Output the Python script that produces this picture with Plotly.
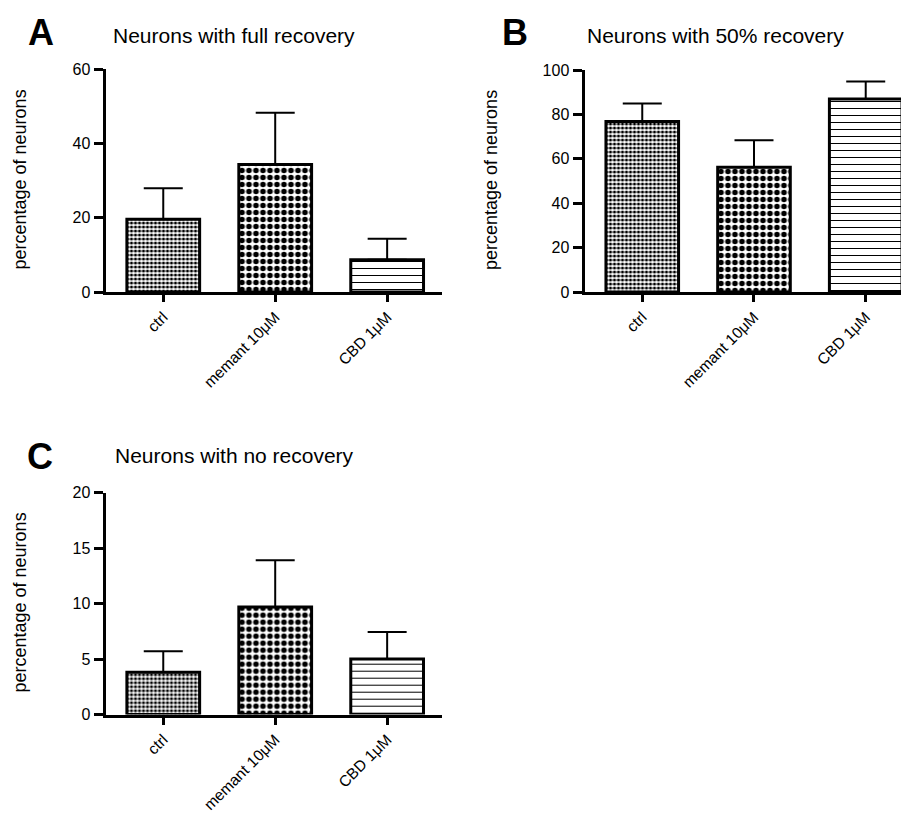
import plotly.graph_objects as go

categories = ["ctrl", "memant 10μM", "CBD 1μM"]

full_mean = [19.6, 34.3, 8.7]
full_sem = [8.3, 13.9, 5.6]

half_mean = [76.8, 56.2, 86.9]
half_sem = [8.1, 12.1, 7.9]

none_mean = [3.8, 9.7, 5.0]
none_sem = [1.9, 4.2, 2.45]

titles = ["Neurons with full recovery", "Neurons with 50% recovery", "Neurons with no recovery"]
letters = ["A", "B", "C"]
ytitle = "percentage of neurons"

FONT = "Arial, 'Liberation Sans', sans-serif"

pat_shapes = [".", ".", "-"]
pat_sizes = [4, 7, 7]
pat_solid = [0.5, 0.5, 0.15]

fig = go.Figure()

panels = [
    (full_mean, full_sem, "x", "y"),
    (half_mean, half_sem, "x2", "y2"),
    (none_mean, none_sem, "x3", "y3"),
]

for mean, sem, xa, ya in panels:
    fig.add_trace(go.Bar(
        x=categories, y=mean, xaxis=xa, yaxis=ya,
        width=0.65,
        marker=dict(
            color="white",
            line=dict(color="black", width=3),
            pattern=dict(shape=pat_shapes, size=pat_sizes, solidity=pat_solid,
                         fgcolor="black", bgcolor="white", fgopacity=1,
                         fillmode="replace"),
        ),
        error_y=dict(type="data", symmetric=False, array=sem, arrayminus=[0, 0, 0],
                     color="black", thickness=2, width=19.5),
        showlegend=False,
    ))

xcommon = dict(showline=True, linecolor="black", linewidth=3, ticks="outside",
               ticklen=7, tickwidth=3, tickcolor="black", tickangle=-45,
               showgrid=False, zeroline=False, automargin=False,
               tickfont=dict(family=FONT, size=15.5, color="black"))
ycommon = dict(showline=True, linecolor="black", linewidth=3, ticks="outside",
               ticklen=9, tickwidth=2.5, tickcolor="black",
               showgrid=False, zeroline=False, automargin=False,
               tickfont=dict(family=FONT, size=16, color="black"))

W, H = 909, 813
OFF = 8  # page body margin offset in the browser
def px(v):
    return (v - OFF) / W
def py(v):
    return 1 - (v - OFF) / H

fig.update_layout(
    width=W, height=H,
    margin=dict(l=0, r=0, t=0, b=0, pad=0, autoexpand=False),
    paper_bgcolor="white", plot_bgcolor="white",
    xaxis=dict(domain=[px(105.5), px(442)], range=[-0.516, 2.49], anchor="y", **xcommon),
    yaxis=dict(domain=[py(292), py(69)], range=[0, 60], tickvals=[0, 20, 40, 60], anchor="x", **ycommon),
    xaxis2=dict(domain=[px(584.5), 1.0], range=[-0.517, 2.459], anchor="y2", **xcommon),
    yaxis2=dict(domain=[py(292), py(70)], range=[0, 100], tickvals=[0, 20, 40, 60, 80, 100], anchor="x2", **ycommon),
    xaxis3=dict(domain=[px(105.5), px(442)], range=[-0.516, 2.49], anchor="y3", **xcommon),
    yaxis3=dict(domain=[py(714.5), py(492.7)], range=[0, 20], tickvals=[0, 5, 10, 15, 20], anchor="x3", **ycommon),
)

ann = []
for t, (cx, cy) in zip(titles, [(234, 36), (715, 36), (234.5, 455)]):
    ann.append(dict(text=t, x=px(cx), y=py(cy), xref="paper", yref="paper",
                    showarrow=False, xanchor="center", yanchor="middle",
                    font=dict(family=FONT, size=21, color="black")))
for l, (cx, cy) in zip(letters, [(41, 32.5), (514.5, 32.5), (40, 456)]):
    ann.append(dict(text="<b>" + l + "</b>", x=px(cx), y=py(cy), xref="paper", yref="paper",
                    showarrow=False, xanchor="center", yanchor="middle",
                    font=dict(family=FONT, size=36, color="black")))
for (cx, cy) in [(19, 179.5), (491, 180), (19, 602.5)]:
    ann.append(dict(text=ytitle, x=px(cx), y=py(cy), xref="paper", yref="paper",
                    showarrow=False, xanchor="center", yanchor="middle", textangle=-90,
                    font=dict(family=FONT, size=18, color="black")))
fig.update_layout(annotations=ann)

fig.write_html("out.html")
